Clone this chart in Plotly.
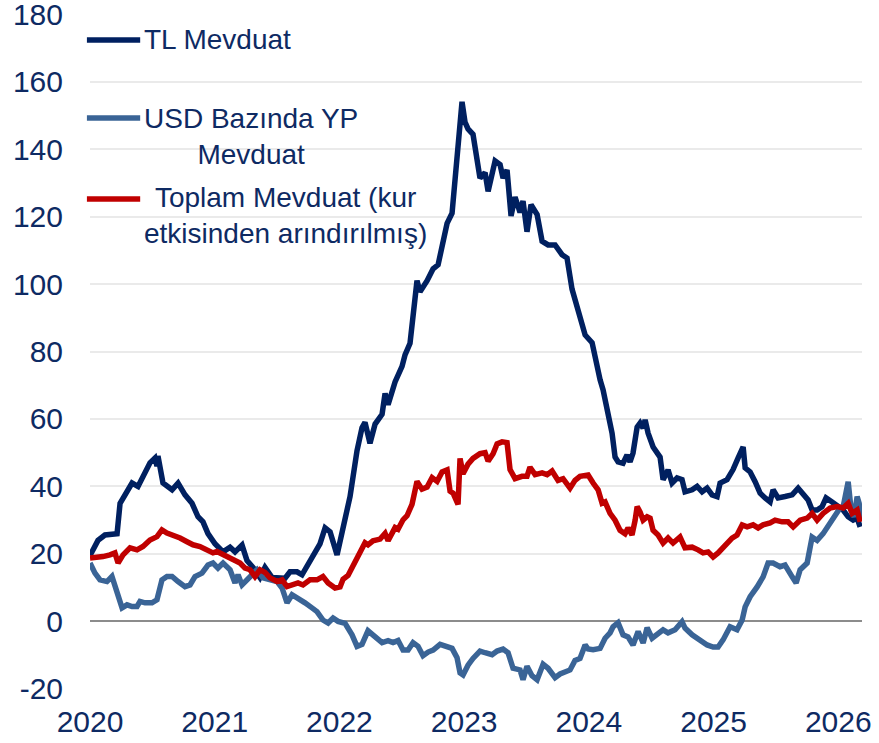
import plotly.graph_objects as go

# ---- data (annual % change), x in decimal years ----
tl_years = [2020.000, 2020.064, 2020.120, 2020.217, 2020.241, 2020.281, 2020.337, 2020.385, 2020.441, 2020.481,
            2020.521, 2020.537, 2020.545, 2020.585, 2020.658, 2020.706, 2020.762, 2020.818, 2020.866, 2020.906,
            2020.946, 2021.002, 2021.067, 2021.123, 2021.163, 2021.219, 2021.259, 2021.307, 2021.363, 2021.403,
            2021.460, 2021.508, 2021.564, 2021.604, 2021.660, 2021.700, 2021.748, 2021.804, 2021.844, 2021.885,
            2021.925, 2021.981, 2022.021, 2022.085, 2022.141, 2022.181, 2022.205, 2022.245, 2022.286, 2022.342,
            2022.366, 2022.390, 2022.446, 2022.502, 2022.526, 2022.566, 2022.622, 2022.646, 2022.703, 2022.751,
            2022.791, 2022.823, 2022.863, 2022.903, 2022.927, 2022.951, 2022.983, 2023.007, 2023.031, 2023.071,
            2023.127, 2023.168, 2023.192, 2023.248, 2023.288, 2023.312, 2023.344, 2023.376, 2023.408, 2023.448,
            2023.472, 2023.504, 2023.536, 2023.585, 2023.625, 2023.673, 2023.729, 2023.785, 2023.825, 2023.865,
            2023.913, 2023.970, 2024.026, 2024.050, 2024.090, 2024.114, 2024.154, 2024.186, 2024.210, 2024.234,
            2024.274, 2024.306, 2024.330, 2024.354, 2024.387, 2024.411, 2024.435, 2024.451, 2024.475, 2024.515,
            2024.571, 2024.595, 2024.635, 2024.667, 2024.707, 2024.747, 2024.771, 2024.828, 2024.868, 2024.908,
            2024.948, 2024.988, 2025.028, 2025.052, 2025.108, 2025.156, 2025.196, 2025.237, 2025.253, 2025.293,
            2025.333, 2025.373, 2025.413, 2025.453, 2025.477, 2025.517, 2025.573, 2025.630, 2025.678, 2025.718,
            2025.758, 2025.790, 2025.830, 2025.870, 2025.902, 2025.950, 2025.998, 2026.039, 2026.079, 2026.119,
            2026.151, 2026.175]
tl_values = [19.5, 24, 25.6, 26, 35, 37.5, 41, 40, 44, 47,
             48.4, 46, 49, 41, 39, 41, 37.5, 35, 31, 29.5,
             26, 23, 20.6, 22, 20.6, 22.6, 18, 16, 13, 16,
             13, 12.8, 12.8, 14.7, 14.7, 13.8, 17, 20.6, 23, 27.7,
             26.5, 19.7, 27, 37, 50.6, 57.4, 59, 52.8, 58.5, 61.4,
             67.6, 64.2, 71, 75.6, 79, 82.4, 101, 97.7, 101, 104.5,
             105.7, 112, 118, 121, 131, 141.5, 154, 148, 146, 144.4,
             131.4, 133, 127.5, 136.5, 135.4, 131.4, 133.8, 120.2, 125.8, 121.2,
             124.6, 115.5, 123.5, 120.6, 112.7, 111.6, 111.6, 108.7, 107.7, 98.5,
             91.7, 84.9, 82.6, 78, 71.6, 68.6, 61.8, 55.8, 48.7, 47.3,
             46.9, 49.3, 47.3, 49.9, 57.6, 58.8, 57.3, 59.7, 55.8, 51.7,
             48.7, 42, 44.9, 41, 42.5, 42, 38.4, 39, 40, 38.4,
             39.5, 37.5, 37, 41, 42, 45, 48.4, 51.7, 45.5, 44.3,
             41.4, 38, 36.6, 35.4, 39, 36.6, 37, 37.5, 39.5, 37.5,
             36, 33, 33, 34, 36.6, 35.4, 34, 33, 31, 30,
             30.6, 28]

usd_years = [2020.000, 2020.040, 2020.080, 2020.136, 2020.176, 2020.217, 2020.257, 2020.297, 2020.337, 2020.377,
             2020.401, 2020.441, 2020.497, 2020.537, 2020.577, 2020.617, 2020.658, 2020.706, 2020.762, 2020.802,
             2020.842, 2020.898, 2020.946, 2020.986, 2021.026, 2021.067, 2021.123, 2021.163, 2021.187, 2021.219,
             2021.259, 2021.299, 2021.339, 2021.387, 2021.443, 2021.500, 2021.540, 2021.580, 2021.620, 2021.668,
             2021.724, 2021.780, 2021.820, 2021.868, 2021.909, 2021.949, 2021.989, 2022.045, 2022.101, 2022.141,
             2022.181, 2022.229, 2022.286, 2022.342, 2022.390, 2022.430, 2022.470, 2022.510, 2022.550, 2022.590,
             2022.630, 2022.670, 2022.711, 2022.751, 2022.807, 2022.847, 2022.903, 2022.943, 2022.967, 2022.991,
             2023.031, 2023.071, 2023.127, 2023.168, 2023.224, 2023.264, 2023.312, 2023.352, 2023.392, 2023.448,
             2023.472, 2023.504, 2023.544, 2023.585, 2023.633, 2023.673, 2023.729, 2023.769, 2023.809, 2023.849,
             2023.889, 2023.929, 2023.970, 2023.994, 2024.034, 2024.090, 2024.130, 2024.170, 2024.194, 2024.234,
             2024.274, 2024.314, 2024.354, 2024.395, 2024.435, 2024.467, 2024.507, 2024.547, 2024.595, 2024.635,
             2024.691, 2024.747, 2024.771, 2024.828, 2024.892, 2024.948, 2024.996, 2025.036, 2025.076, 2025.132,
             2025.188, 2025.229, 2025.253, 2025.293, 2025.349, 2025.397, 2025.437, 2025.477, 2025.533, 2025.573,
             2025.630, 2025.662, 2025.694, 2025.750, 2025.790, 2025.830, 2025.878, 2025.934, 2025.974, 2026.014,
             2026.039, 2026.071, 2026.079, 2026.103, 2026.127, 2026.151, 2026.167, 2026.183]
usd_values = [17.3, 14.3, 12.3, 11.8, 13.3, 8.4, 4, 4.9, 4.4, 4.4,
              5.9, 5.5, 5.5, 6.4, 12.3, 13.3, 13.3, 11.8, 10.3, 10.8,
              13.3, 14.3, 16.7, 17.3, 15.8, 17.3, 15.3, 11.4, 13.8, 10.8,
              12.3, 13.8, 15.3, 12.9, 12.3, 11.8, 9.9, 5.5, 7.9, 7,
              5.5, 4, 2.9, 0.4, -0.5, 1, 0, -0.6, -4, -7.4,
              -6.8, -2.8, -4.5, -6.3, -5.7, -6.3, -5.7, -8.5, -8.5, -6.3,
              -7.4, -10.2, -9.1, -8.5, -6.8, -7.4, -8, -10.8, -15.3, -15.9,
              -13, -11, -8.8, -9.3, -9.9, -8.8, -8.2, -9.3, -13.9, -14.4,
              -17.3, -13.3, -16.1, -17.3, -12.7, -13.9, -16.7, -15.6, -15, -14.4,
              -11.6, -11, -7, -8.2, -8.4, -8, -5, -3.4, -1.6, -0.4,
              -4, -4.6, -7, -3, -6.4, -1.9, -5, -4, -2.5, -3.4,
              -2.5, -0.1, -2, -4, -5.5, -7, -7.6, -7.6, -5.5, -1.6,
              -2.5, 0.4, 4.3, 7.3, 10.2, 13.2, 17.3, 17.3, 16.2, 16.7,
              13.2, 11.4, 15.3, 17.3, 25, 24, 26, 29.2, 32, 33.6,
              34, 40, 41.4, 33, 31, 37, 35, 30.6]

total_years = [2020.000, 2020.056, 2020.104, 2020.160, 2020.200, 2020.225, 2020.265, 2020.321, 2020.377, 2020.425,
               2020.481, 2020.537, 2020.577, 2020.617, 2020.666, 2020.722, 2020.778, 2020.826, 2020.882, 2020.938,
               2020.986, 2021.018, 2021.067, 2021.123, 2021.163, 2021.203, 2021.243, 2021.283, 2021.323, 2021.363,
               2021.403, 2021.443, 2021.500, 2021.540, 2021.580, 2021.628, 2021.668, 2021.708, 2021.764, 2021.820,
               2021.868, 2021.909, 2021.965, 2022.005, 2022.029, 2022.069, 2022.109, 2022.149, 2022.205, 2022.229,
               2022.269, 2022.326, 2022.366, 2022.390, 2022.446, 2022.470, 2022.510, 2022.542, 2022.582, 2022.622,
               2022.662, 2022.703, 2022.743, 2022.783, 2022.823, 2022.863, 2022.887, 2022.911, 2022.951, 2022.967,
               2022.991, 2023.031, 2023.071, 2023.127, 2023.168, 2023.192, 2023.232, 2023.264, 2023.304, 2023.344,
               2023.368, 2023.408, 2023.464, 2023.504, 2023.528, 2023.569, 2023.625, 2023.665, 2023.705, 2023.753,
               2023.793, 2023.849, 2023.889, 2023.929, 2023.994, 2024.034, 2024.074, 2024.106, 2024.130, 2024.170,
               2024.210, 2024.250, 2024.290, 2024.314, 2024.346, 2024.371, 2024.387, 2024.411, 2024.435, 2024.467,
               2024.491, 2024.515, 2024.555, 2024.595, 2024.635, 2024.675, 2024.731, 2024.771, 2024.828, 2024.876,
               2024.916, 2024.956, 2024.996, 2025.036, 2025.092, 2025.148, 2025.188, 2025.229, 2025.269, 2025.317,
               2025.357, 2025.397, 2025.453, 2025.493, 2025.549, 2025.597, 2025.638, 2025.694, 2025.750, 2025.790,
               2025.830, 2025.878, 2025.934, 2025.990, 2026.039, 2026.079, 2026.111, 2026.151, 2026.175]
total_values = [18.8, 18.8, 19.2, 19.7, 20.3, 17.3, 19.7, 21.8, 21.2, 22.2,
                24.1, 25.1, 27.1, 26.2, 25.6, 24.7, 23.6, 22.7, 22.2, 21.2,
                20.3, 20.7, 19.7, 18.8, 17.7, 17.3, 15.8, 15.3, 13.3, 15.3,
                14.5, 12.9, 11.8, 12.3, 10.3, 10.8, 11.4, 10.8, 12.3, 12.3,
                13.3, 11.4, 9.9, 10.2, 12.5, 13.6, 16.5, 19.3, 23.3, 22.7,
                23.9, 24.4, 26.1, 23.9, 27.8, 27.3, 30.1, 31.3, 34.7, 41.5,
                39.2, 39.8, 42.6, 41.5, 44.3, 44.9, 38.6, 38, 34.7, 48.3,
                43.8, 46.6, 48.3, 49.7, 50, 47.5, 49.7, 52.6, 53.2, 53,
                45, 42.3, 43, 43, 45.7, 43.5, 44, 43.5, 44.6, 41.8,
                42.3, 39.5, 41.8, 43, 43.4, 41, 39, 35, 35.4, 32,
                30, 27, 26, 27.7, 25.6, 30, 34, 32.4, 30, 31,
                30.6, 27, 25.6, 23.2, 24.7, 23.2, 25, 21.8, 22, 21.2,
                20.3, 20.6, 19.1, 20.3, 22.6, 24.7, 25.6, 28.6, 28, 28.6,
                27.7, 28.6, 29.2, 30, 29.5, 29.5, 28, 30, 30.6, 32,
                30, 32, 33.6, 34, 33.6, 35, 32, 33, 29.5]

year_ticks = [2020, 2021, 2022, 2023, 2024, 2025, 2026]
y_ticks = [-20, 0, 20, 40, 60, 80, 100, 120, 140, 160, 180]
y_tick_labels = ["-20", "0", "20", "40", "60", "80", "100", "120", "140", "160", "180"]

series_names = ["TL Mevduat", "USD Bazında YP<br>Mevduat", "Toplam Mevduat (kur<br>etkisinden arındırılmış)"]
NAVY = "#002060"
STEEL = "#3A6496"
RED = "#C00000"
TEXT = "#0E2A63"
FONT = "Liberation Sans, Arial, sans-serif"

fig = go.Figure()
fig.add_trace(go.Scatter(x=tl_years, y=tl_values, mode="lines", name="TL Mevduat",
                         line=dict(color=NAVY, width=5.5), showlegend=False, hoverinfo="skip"))
fig.add_trace(go.Scatter(x=usd_years, y=usd_values, mode="lines", name="USD Bazında YP Mevduat",
                         line=dict(color=STEEL, width=5.5), showlegend=False, hoverinfo="skip"))
fig.add_trace(go.Scatter(x=total_years, y=total_values, mode="lines", name="Toplam Mevduat",
                         line=dict(color=RED, width=5.5), showlegend=False, hoverinfo="skip"))

# custom legend (paper coordinates)
legend_rows = [(0.9615, NAVY, 0.9615), (0.846, STEEL, 0.8185), (0.726, RED, 0.7015)]
for (ly, col, ty), txt in zip(legend_rows, series_names):
    fig.add_shape(type="line", xref="paper", yref="paper", x0=-0.004, x1=0.065, y0=ly, y1=ly,
                  line=dict(color=col, width=5.5))
    fig.add_annotation(xref="paper", yref="paper", x=0.068, y=ty, xanchor="left", yanchor="middle",
                       text=txt, showarrow=False, align="center",
                       font=dict(family=FONT, size=28, color=TEXT))

fig.update_layout(
    width=879, height=743,
    margin=dict(l=90, r=17, t=14, b=54, autoexpand=False),
    paper_bgcolor="white", plot_bgcolor="white",
    font=dict(family=FONT, size=30, color=TEXT),
)
fig.update_xaxes(range=[2020, 2026.19], tickvals=year_ticks, ticktext=[str(y) for y in year_ticks],
                 showgrid=False, zeroline=False, showline=False, ticks="", automargin=False,
                 ticklabelstandoff=12, ticklabeloverflow="allow",
                 tickfont=dict(family=FONT, size=30, color=TEXT))
fig.update_yaxes(range=[-20.05, 180.05], tickvals=y_ticks, ticktext=y_tick_labels,
                 showgrid=True, gridcolor="#EAEAEA", gridwidth=2, automargin=False,
                 zeroline=True, zerolinecolor="#8C8C8C", zerolinewidth=2, showline=False, ticks="",
                 ticklabelstandoff=26, ticklabeloverflow="allow",
                 tickfont=dict(family=FONT, size=30, color=TEXT))

fig.write_html("out.html", config={"displayModeBar": False},
               post_script="document.body.style.margin='0';document.body.style.overflow='hidden';")
